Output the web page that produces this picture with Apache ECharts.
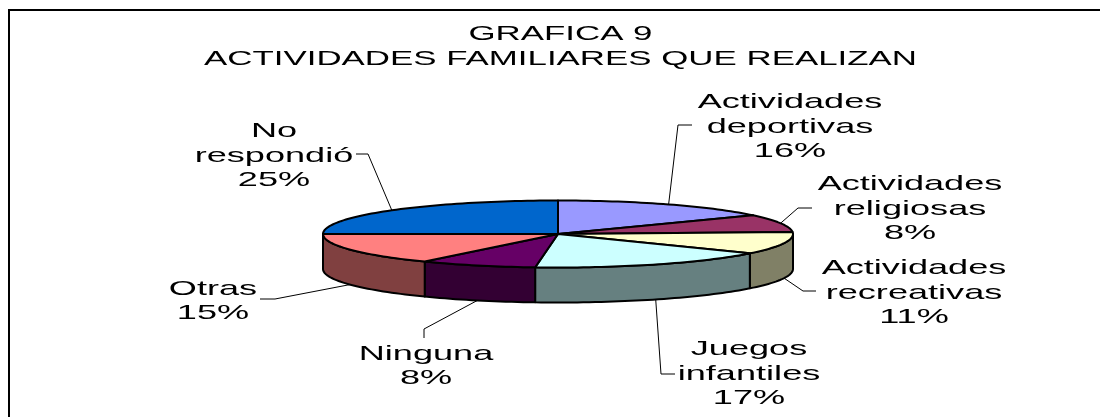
<!DOCTYPE html>
<html><head><meta charset="utf-8">
<style>html,body{margin:0;padding:0;background:#fff}#c{width:1100px;height:417px}</style>
<script src="https://cdn.jsdelivr.net/npm/echarts@6/dist/echarts.min.js"></script>
</head><body><div id="c"></div>
<script>
const titleLines = ['GRAFICA 9', 'ACTIVIDADES FAMILIARES QUE REALIZAN'];
const categories = ['Actividades deportivas', 'Actividades religiosas', 'Actividades recreativas', 'Juegos infantiles', 'Ninguna', 'Otras', 'No respondió'];
const values = [15.6, 8.4, 10.8, 16.75, 8.05, 15.4, 25];
const colors = ['#9999FF', '#993366', '#FFFFCC', '#CCFFFF', '#660066', '#FF8080', '#0066CC'];

// Layout of the drawing (not data)
const PIE = { cx: 558, cy: 234, rx: 235, ry: 33.5, depth: 35 };
const LABEL_SCALE = 1.72, TITLE_SCALE = 1.66, FONT_SIZE = 21, LINE_H = 24.5;
const labelLayout = [
  { x: 790, y: 127, elbow: [678, 125], end: [692, 125] },
  { x: 910, y: 209, elbow: [798, 208], end: [812, 208] },
  { x: 914, y: 293, elbow: [803, 291], end: [816, 291] },
  { x: 749, y: 374, elbow: [661, 374], end: [675, 374] },
  { x: 426, y: 366, elbow: [424, 329], end: [424, 338] },
  { x: 213, y: 301, elbow: [275, 299], end: [260, 299] },
  { x: 274, y: 156, elbow: [368, 154], end: [356, 154] }
];

const total = values.reduce((a, b) => a + b, 0);
const startAngles = [];
values.reduce((acc, v, i) => { startAngles[i] = acc; return acc + v; }, 0);
const deg = v => v / total * 360;
function pt(t, dy) {
  const r = t * Math.PI / 180;
  return [PIE.cx + PIE.rx * Math.sin(r), PIE.cy - PIE.ry * Math.cos(r) + (dy || 0)];
}
function arc(a, b, dy) {
  const n = Math.max(2, Math.ceil((b - a) / 1.5)), out = [];
  for (let k = 0; k <= n; k++) out.push(pt(a + (b - a) * k / n, dy));
  return out;
}
function darker(hex) {
  const n = parseInt(hex.slice(1), 16);
  const h = c => Math.round(c / 2);
  return 'rgb(' + h(n >> 16 & 255) + ',' + h(n >> 8 & 255) + ',' + h(n & 255) + ')';
}
const outline = { stroke: '#000', lineWidth: 2, lineJoin: 'round' };

function renderSide(params, api) {
  const i = api.value(0);
  const a = Math.max(deg(startAngles[i]), 90), b = Math.min(deg(startAngles[i] + values[i]), 270);
  if (a >= b) return { type: 'group', children: [] };
  const pts = arc(a, b, 0).concat(arc(a, b, PIE.depth).reverse());
  return { type: 'polygon', shape: { points: pts }, style: Object.assign({ fill: darker(colors[i]) }, outline) };
}
function renderTop(params, api) {
  const i = api.value(0);
  const a = deg(startAngles[i]), b = deg(startAngles[i] + values[i]);
  const pts = [[PIE.cx, PIE.cy]].concat(arc(a, b, 0));
  return { type: 'polygon', shape: { points: pts }, style: Object.assign({ fill: colors[i] }, outline) };
}
function renderLeader(params, api) {
  const i = api.value(0), L = labelLayout[i];
  const mid = deg(startAngles[i] + values[i] / 2);
  const front = mid > 90 && mid < 270;
  return { type: 'polyline', shape: { points: [pt(mid, front ? PIE.depth : 0), L.elbow, L.end] },
    style: { stroke: '#000', lineWidth: 1, fill: null } };
}
function renderLabel(params, api) {
  const i = api.value(0), L = labelLayout[i];
  const text = categories[i].split(' ').concat(Math.round(values[i]) + '%').join('\n');
  return { type: 'text', x: L.x, y: L.y, scaleX: LABEL_SCALE,
    style: { text, fill: '#000', font: FONT_SIZE + 'px "Liberation Sans", Arial, sans-serif', lineHeight: LINE_H, align: 'center', verticalAlign: 'middle' } };
}
const rows = values.map((v, i) => [i, v]);
const mk = (renderItem, z) => ({ type: 'custom', coordinateSystem: 'none', renderItem, data: rows, z, silent: true, animation: false });

const chart = echarts.init(document.getElementById('c'), null, { renderer: 'canvas' });
chart.setOption({
  backgroundColor: '#fff',
  animation: false,
  graphic: [
    { type: 'line', silent: true, shape: { x1: 8, y1: 10, x2: 1100, y2: 10 }, style: { stroke: '#000', lineWidth: 2 } },
    { type: 'line', silent: true, shape: { x1: 9, y1: 9, x2: 9, y2: 417 }, style: { stroke: '#000', lineWidth: 2 } },
    { type: 'text', silent: true, x: 560.5, y: 47, scaleX: TITLE_SCALE,
      style: { text: titleLines.join('\n'), fill: '#000', font: FONT_SIZE + 'px "Liberation Sans", Arial, sans-serif', lineHeight: 25, align: 'center', verticalAlign: 'middle' } }
  ],
  series: [mk(renderLeader, 1), mk(renderSide, 2), mk(renderTop, 3), mk(renderLabel, 4)]
});
</script></body></html>
